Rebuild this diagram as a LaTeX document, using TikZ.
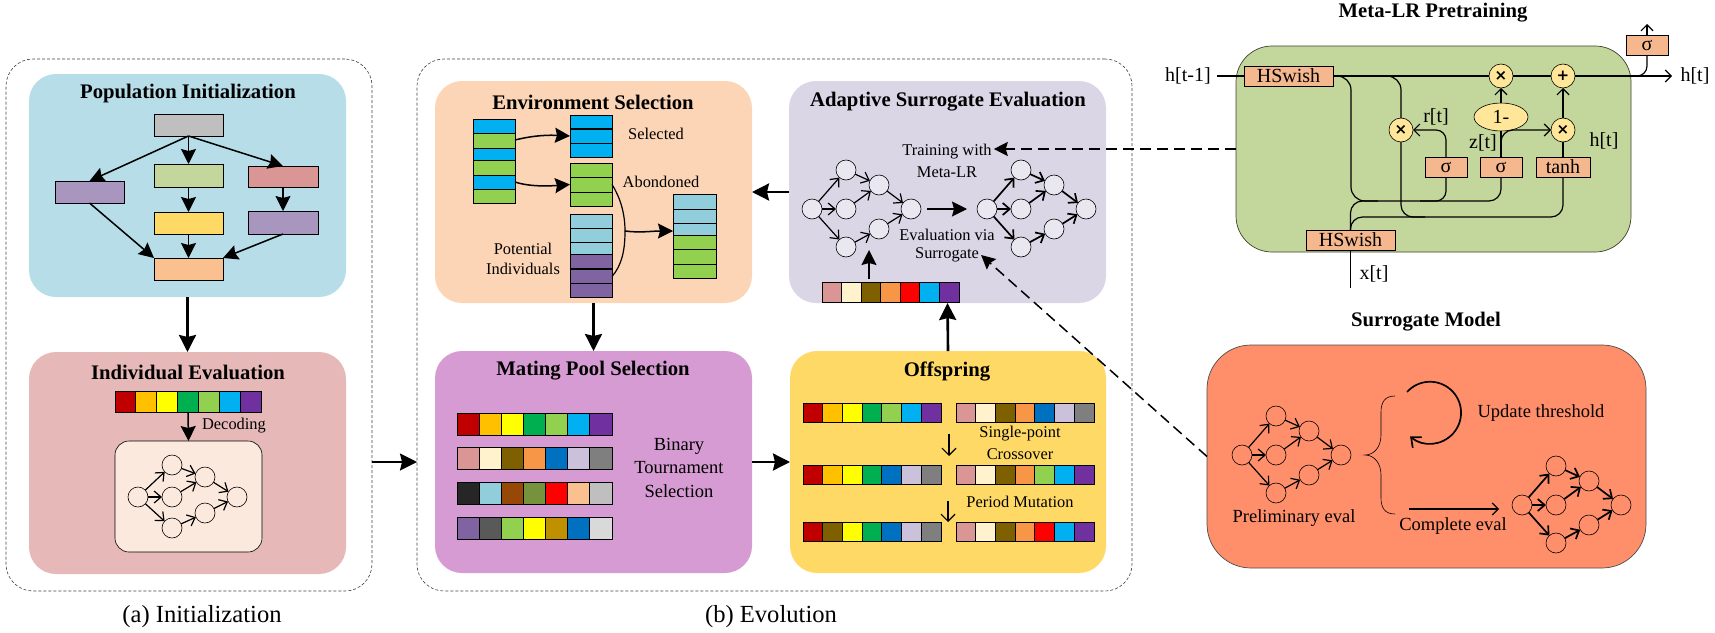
\documentclass[tikz,border=0pt]{standalone}
\usepackage{fontspec}
\setmainfont{Liberation Serif}
\newfontfamily\opfont{DejaVu Sans}
\usetikzlibrary{arrows.meta,calc,shapes.geometric}
\definecolor{cRd}{HTML}{C00000}\definecolor{cOg}{HTML}{FFC000}\definecolor{cYe}{HTML}{FFFF00}
\definecolor{cGn}{HTML}{00B050}\definecolor{cLg}{HTML}{92D050}\definecolor{cBl}{HTML}{00B0F0}
\definecolor{cPu}{HTML}{7030A0}\definecolor{cPk}{HTML}{D99694}\definecolor{cCr}{HTML}{FFF2CC}
\definecolor{cBr}{HTML}{7F6000}\definecolor{cOr}{HTML}{F79646}\definecolor{cDb}{HTML}{0070C0}
\definecolor{cLv}{HTML}{CCC1DA}\definecolor{cGy}{HTML}{7F7F7F}\definecolor{cBk}{HTML}{262626}
\definecolor{cTl}{HTML}{92CDDC}\definecolor{cRs}{HTML}{974806}\definecolor{cOl}{HTML}{76923C}
\definecolor{cRe}{HTML}{FF0000}\definecolor{cPe}{HTML}{FAC090}\definecolor{cSl}{HTML}{BFBFBF}
\definecolor{cVi}{HTML}{8064A2}\definecolor{cDg}{HTML}{595959}\definecolor{cGo}{HTML}{BF9000}
\definecolor{cLl}{HTML}{D9D9D9}\definecolor{cMp}{HTML}{A996BF}\definecolor{cYl}{HTML}{FFD966}
\definecolor{cGr}{HTML}{C3D69B}
\definecolor{pBlue}{HTML}{B7DDE8}\definecolor{pPink}{HTML}{E6B9B8}\definecolor{pEnv}{HTML}{FBD5B5}
\definecolor{pAda}{HTML}{DAD6E6}\definecolor{pMate}{HTML}{D79BD3}\definecolor{pOff}{HTML}{FFD966}
\definecolor{pCoral}{HTML}{FF8F6B}\definecolor{pCream}{HTML}{FBE9DD}\definecolor{pNode}{HTML}{E9E7F0}
\definecolor{pBox}{HTML}{F5B78E}\definecolor{pOp}{HTML}{FFE699}
\tikzset{
  panel/.style={rectangle,inner sep=0pt,outer sep=0pt,rounded corners=27pt},
  dashbox/.style={rectangle,draw=black!75,line width=0.6pt,dash pattern=on 3pt off 2pt,inner sep=0pt,outer sep=0pt,rounded corners=27pt},
  ghost/.style={rectangle,inner sep=0pt,outer sep=0pt},
  flowbox/.style={rectangle,draw=black,line width=0.9pt,inner sep=0pt,outer sep=0pt},
  cellbox/.style={draw=black,line width=0.9pt},
  ttl/.style={font=\fontsize{20.7}{24}\selectfont\bfseries,inner sep=0pt},
  txt/.style={font=\fontsize{16.4}{20}\selectfont,inner sep=2pt},
  txtm/.style={font=\fontsize{18.5}{22}\selectfont,inner sep=0pt},
  txtl/.style={font=\fontsize{20}{24}\selectfont,inner sep=0pt},
  capt/.style={font=\fontsize{24.6}{28}\selectfont,inner sep=0pt},
  flow/.style={-{Stealth[length=15pt,width=15pt,inset=2pt]},line width=1.5pt},
  fat/.style={-{Stealth[length=17pt,width=17pt,inset=2pt]},line width=2.6pt},
  thinbarb/.style={-{Straight Barb[length=7pt,width=14pt]},line width=1.2pt},
  wire/.style={line width=1.2pt},
  wirebarb/.style={wire,-{Straight Barb[length=6pt,width=12pt]}},
  dashlink/.style={-{Stealth[length=14pt,width=14pt,inset=2pt]},line width=1.5pt,dash pattern=on 11pt off 6pt},
  gnode/.style={circle,draw=black,line width=0.6pt,minimum size=20pt,inner sep=0pt,outer sep=0pt},
  gedge/.style={-{Straight Barb[length=7pt,width=12pt]},line width=1.2pt},
  gedgeb/.style={-{Straight Barb[length=7pt,width=12pt]},line width=1.7pt},
  opnode/.style={circle,draw=black,line width=0.6pt,fill=pOp,minimum size=24pt,inner sep=0pt,outer sep=0pt,font=\opfont\fontsize{15}{15}\selectfont\bfseries},
  gatebox/.style={rectangle,draw=black,line width=0.7pt,fill=pBox,inner sep=0pt,outer sep=0pt,font=\fontsize{20}{24}\selectfont},
}
% box{name}{x1}{y1}{x2}{y2}{style}{text}
\newcommand{\boxat}[7]{\node[#6,minimum width={(#4-(#2))*1pt},minimum height={(#5-(#3))*1pt}] (#1) at ({(#2+#4)/2},{(#3+#5)/2}) {#7};}
% row of seven cells
\newcommand{\cellrow}[6]{%
  \pgfmathsetmacro\cwid{(#4-#2)/7}%
  \foreach \cc [count=\ii from 0] in {#6} {%
    \pgfmathsetmacro\xaa{#2+\ii*\cwid}\pgfmathsetmacro\xbb{\xaa+\cwid}%
    \path[cellbox,fill=\cc] (\xaa,#3) rectangle (\xbb,#5);}%
  \boxat{#1}{#2}{#3}{#4}{#5}{ghost}{}}
% vertical stack: name x1 y1 x2 y2 list
\newcommand{\cellstack}[6]{%
  \foreach \ya/\yb/\cc in {#6} {\path[cellbox,fill=\cc] (#2,\ya) rectangle (#4,\yb);}%
  \boxat{#1}{#2}{#3}{#4}{#5}{ghost}{}}
% graph: prefix x y dyTop dyBot dyMidTop dyMidBot nodefill edgestyle
\newcommand{\gnet}[9]{%
  \node[gnode,#8] (#1a) at (#2,#3) {};
  \node[gnode,#8] (#1b) at (#2+34,#3+#4) {};
  \node[gnode,#8] (#1c) at (#2+34,#3) {};
  \node[gnode,#8] (#1d) at (#2+34,#3+#5) {};
  \node[gnode,#8] (#1e) at (#2+67,#3+#6) {};
  \node[gnode,#8] (#1f) at (#2+67,#3+#7) {};
  \node[gnode,#8] (#1g) at (#2+99,#3) {};
  \foreach \pp/\qq in {a/b,a/c,a/d,b/e,c/e,d/f,e/g,f/g} {\draw[#9] (#1\pp) -- (#1\qq);}}
\begin{document}
\begin{tikzpicture}[x=1pt,y=-1pt]
\useasboundingbox (0,0) rectangle (1715,632);
% outer dashed frames
\boxat{initbox}{6}{59}{372}{591}{dashbox}{}
\boxat{evobox}{417}{59}{1132}{591}{dashbox}{}
\node[capt] (capa) at (202,617) {(a) Initialization};
\node[capt] (capb) at (771,617) {(b) Evolution};
% panels
\boxat{pop}{29}{74}{346}{297}{panel,fill=pBlue}{}
\boxat{ind}{29}{352}{346}{574}{panel,fill=pPink}{}
\boxat{env}{435}{81}{752}{303}{panel,fill=pEnv}{}
\boxat{adapt}{789}{81}{1106}{303}{panel,fill=pAda}{}
\boxat{mate}{435}{351}{752}{573}{panel,fill=pMate}{}
\boxat{off}{790}{351}{1106}{573}{panel,fill=pOff}{}
\boxat{meta}{1236}{46}{1631}{252}{panel,fill=cGr,draw=black!70!cGr,line width=0.7pt,rounded corners=36pt}{}
\boxat{surr}{1207}{345}{1646}{568}{panel,fill=pCoral,draw=black!70,line width=0.7pt,rounded corners=44pt}{}
% titles
\node[ttl] (t1) at (188,94) {Population Initialization};
\node[ttl] (t2) at (188,372) {Individual Evaluation};
\node[ttl] (t3) at (593,102) {Environment Selection};
\node[ttl] (t4) at (948,102) {Adaptive Surrogate Evaluation};
\node[ttl] (t5) at (593,371) {Mating Pool Selection};
\node[ttl] (t6) at (947,371) {Offspring};
\node[ttl] (t7) at (1433,13) {Meta-LR Pretraining};
\node[ttl] (t8) at (1426,322) {Surrogate Model};
% population flow
\boxat{fa}{154}{114}{223}{136}{flowbox,fill=cSl}{}
\boxat{fb}{154}{164}{223}{187}{flowbox,fill=cGr}{}
\boxat{fc}{248}{166}{318}{187}{flowbox,fill=cPk}{}
\boxat{fd}{55}{181}{124}{203}{flowbox,fill=cMp}{}
\boxat{fe}{154}{212}{223}{234}{flowbox,fill=cYl}{}
\boxat{ff}{248}{211}{318}{234}{flowbox,fill=cMp}{}
\boxat{fg}{154}{258}{223}{280}{flowbox,fill=cPe}{}
\draw[flow] (fa.south) -- (fb.north);
\draw[flow] (fa.south) -- (fc.north);
\draw[flow] (fa.south) -- (fd.north);
\draw[flow] (fb.south) -- (fe.north);
\draw[flow,line width=1.2pt] (fc.south) -- (ff.north);
\draw[flow] (fe.south) -- (fg.north);
\draw[flow] (fd.south) -- (fg.north west);
\draw[flow] (ff.south) -- (fg.north east);
\draw[fat] (pop.south) -- (ind.north);
% individual evaluation
\cellrow{ist}{115}{391}{261}{412}{cRd,cOg,cYe,cGn,cLg,cBl,cPu}
\boxat{icr}{115}{441}{262}{552}{panel,fill=pCream,draw=black,line width=0.6pt,rounded corners=14pt}{}
\draw[flow] (ist.south) -- (icr.north);
\node[txt] (dec) at (234,426) {Decoding};
\gnet{ga}{138}{497}{-32}{31}{-20}{16}{fill=pCream}{gedge}
% init -> evolution
\draw[fat,line width=2pt] (initbox.east |- mate.west) -- (evobox.west |- mate.west);
% environment selection
\cellstack{c1}{473}{119}{515}{203}{119/133/cBl,133/148/cLg,148/160/cBl,160/175/cLg,175/189/cBl,189/203/cLg}
\cellstack{sel}{570}{115}{612}{157}{115/128.5/cBl,129.5/143/cBl,143/157/cBl}
\cellstack{ab}{570}{163}{612}{206}{163/177/cLg,177/192/cLg,192/206/cLg}
\cellstack{pot}{570}{214}{612}{297}{214/228/cTl,228/242/cTl,242/254/cTl,254/268.5/cVi,269.5/283/cVi,283/297/cVi}
\cellstack{mg}{673}{194}{716}{278}{194/209/cTl,209/223/cTl,223/235/cTl,235/249/cLg,249/264/cLg,264/278/cLg}
\draw[flow] ([yshift=21pt]c1.east) .. controls (535,135) and (550,135) .. (sel.west);
\draw[flow] ([yshift=-21pt]c1.east) .. controls (530,187) and (550,186) .. (ab.west);
\coordinate (jn) at (625,231);
\draw[wire] (ab.east) .. controls (620,197) and (625,213) .. (jn) .. controls (625,250) and (622,265) .. ([yshift=-21pt]pot.east);
\draw[flow] (jn) .. controls (640,233) and (652,231) .. ([yshift=5pt]mg.west);
\node[txt] (ls) at (656,134) {Selected};
\node[txt] (la) at (661,182) {Abondoned};
\node[txt] (lp1) at (523,249) {Potential};
\node[txt] (lp2) at (523,269) {Individuals};
\draw[fat] (env.south) -- (mate.north);
% mating pool
\cellrow{m1}{457}{413}{612}{435}{cRd,cOg,cYe,cGn,cLg,cBl,cPu}
\cellrow{m2}{457}{447}{612}{469}{cPk,cCr,cBr,cOr,cDb,cLv,cGy}
\cellrow{m3}{457}{482}{612}{504}{cBk,cTl,cRs,cOl,cRe,cPe,cSl}
\cellrow{m4}{457}{517}{612}{539}{cVi,cDg,cLg,cYe,cGo,cDb,cLl}
\node[txtm] (b1) at (679,446) {Binary};
\node[txtm] (b2) at (679,468) {Tournament};
\node[txtm] (b3) at (679,491) {Selection};
\draw[fat] (mate.east) -- (off.west);
% offspring
\cellrow{o1}{803}{403}{941}{422}{cRd,cOg,cYe,cGn,cLg,cBl,cPu}
\cellrow{o2}{803}{465}{941}{484}{cRd,cOg,cYe,cGn,cDb,cLv,cGy}
\cellrow{o3}{803}{522}{941}{541}{cRd,cBr,cYe,cGn,cDb,cLv,cGy}
\cellrow{q1}{956}{403}{1094}{422}{cPk,cCr,cBr,cOr,cDb,cLv,cGy}
\cellrow{q2}{956}{465}{1094}{484}{cPk,cCr,cBr,cOr,cLg,cBl,cPu}
\cellrow{q3}{956}{522}{1094}{541}{cPk,cCr,cBr,cOr,cRe,cBl,cPu}
\coordinate (aa) at (949,434);\coordinate (ab2) at (949,456);
\coordinate (ac) at (948,501);\coordinate (ad) at (948,522);
\draw[thinbarb] (aa) -- (ab2);
\draw[thinbarb] (ac) -- (ad);
\node[txt] (sp1) at (1020,434) {Single-point};
\node[txt] (sp2) at (1020,454) {Crossover};
\node[txt] (pm) at (1020,502) {Period Mutation};
\draw[fat] (off.north) -- (adapt.south);
% adaptive surrogate
\gnet{gb}{812}{209}{-39}{38}{-24}{20}{fill=pNode}{gedge}
\gnet{gc}{987}{209}{-39}{38}{-24}{20}{fill=pNode}{gedgeb}
\draw[flow,line width=1.8pt] ($(gbg.east)+(6,0)$) -- ($(gca.west)+(-10,0)$);
\cellrow{as}{822}{282}{959}{302}{cPk,cCr,cBr,cOr,cRe,cBl,cPu}
\coordinate (gin) at (869,250);\coordinate (gfrom) at (869,279);
\draw[flow,line width=1.8pt] (gfrom) -- (gin);
\node[txt] (tr1) at (947,152) {Training with};
\node[txt] (tr2) at (947,172) {Meta-LR};
\node[txt] (ev1) at (947,235) {Evaluation via};
\node[txt] (ev2) at (947,255) {Surrogate};
\draw[fat] (adapt.west) -- (env.east);
% meta-lr cell
\node[gatebox,minimum width=89pt,minimum height=20pt] (hs1) at (1288.5,76) {HSwish};
\node[gatebox,minimum width=89pt,minimum height=20pt] (hs2) at (1350.5,240) {HSwish};
\node[gatebox,minimum width=42pt,minimum height=20pt] (s1) at (1446,167) {σ};
\node[gatebox,minimum width=42pt,minimum height=20pt] (s2) at (1501,167) {σ};
\node[gatebox,minimum width=54pt,minimum height=20pt] (th) at (1563,167) {tanh};
\node[gatebox,minimum width=42pt,minimum height=20pt] (st) at (1647,45) {σ};
\node[opnode] (ma) at (1501,76) {×};
\node[opnode] (pl) at (1563,76) {+};
\node[opnode] (mr) at (1401,130) {×};
\node[opnode] (mh) at (1563,130) {×};
\node[ellipse,draw=black,line width=0.6pt,fill=pOp,minimum width=54pt,minimum height=28pt,inner sep=0pt,outer sep=0pt,font=\fontsize{20}{20}\selectfont] (one) at (1501,117) {1-};
\node[txtl,inner sep=6pt] (hp) at (1188,76) {h[t-1]};
\node[txtl] (ho) at (1695,76) {h[t]};
\node[txtl] (xt) at (1374,274) {x[t]};
\node[txtl] (rt) at (1436,117) {r[t]};
\node[txtl] (zt) at (1483,143) {z[t]};
\node[txtl] (ht) at (1604,141) {h[t]};
\coordinate (hend) at (1672,76);\coordinate (xend) at (1350.5,288);\coordinate (stend) at (1647,24);
\draw[wire] (hp.east) -- (hs1.west);
\draw[wire] (hs1.east) -- (ma.west);
\draw[wire] (ma.east) -- (pl.west);
\draw[wirebarb] (pl.east) -- (hend);
\draw[wire] (hs2.south) -- (xend);
\draw[wirebarb] (st.north) -- (stend);
\draw[wire,rounded corners=14pt] (hs1.east) -- (1351,76) -- (1351,201) -- (1378,201);
\draw[wire,rounded corners=12pt] (hs2.north) -- (1350.5,201) -- (1501,201) -- (s2.south);
\draw[wire,rounded corners=12pt] (hs2.north) -- (1350.5,217) -- (1563,217) -- (th.south);
\draw[wire,rounded corners=10pt] (s1.south) -- (1446,201) -- (1420,201);
\draw[wire,rounded corners=14pt] (1380,76) -- (1401,76) -- (mr.north);
\draw[wire,rounded corners=12pt] (mr.south) -- (1401,217) -- (1425,217);
\draw[wirebarb,rounded corners=10pt] (s1.north) |- (mr.east);
\draw[wire] (s2.north) -- (one.south);
\draw[wirebarb] (one.north) -- (ma.south);
\draw[wirebarb,rounded corners=12pt] (s2.north) |- (mh.west);
\draw[wire] (th.north) -- (mh.south);
\draw[wirebarb] (mh.north) -- (pl.south);
\draw[wire,rounded corners=10pt] (1625,76) -- (1647,76) -- (st.south);
% surrogate model
\gnet{gd}{1242}{455}{-39}{38}{-24}{20}{}{gedge}
\gnet{ge}{1522}{505}{-39}{38}{-24}{20}{}{gedgeb}
\node[txtm] (pe) at (1294,518) {Preliminary eval};
\node[txtm] (ut) at (1541,413) {Update threshold};
\node[txtm] (ce) at (1453,526) {Complete eval};
\coordinate (bt) at (1395,396);\coordinate (bb) at (1395,514);\coordinate (bm) at (1365,455);
\draw[line width=0.6pt] (bt) .. controls (1385,396) and (1381,402) .. (1381,412) -- (1381,435) .. controls (1381,447) and (1374,455) .. (bm) .. controls (1374,455) and (1381,463) .. (1381,475) -- (1381,498) .. controls (1381,508) and (1385,514) .. (bb);
\coordinate (ca) at (1407,392);
\draw[-{Straight Barb[length=8pt,width=14pt]},line width=1.7pt] (ca) arc[start angle=138,end angle=-130,radius=31pt];
\coordinate (cea) at (1409,509);\coordinate (ceb) at (1499,509);
\draw[wirebarb] (cea) -- (ceb);
% dashed links
\draw[dashlink] (meta.west) -- (tr1.east |- meta.west);
\draw[dashlink] (surr.west) -- (ev2.east);
\end{tikzpicture}
\end{document}
